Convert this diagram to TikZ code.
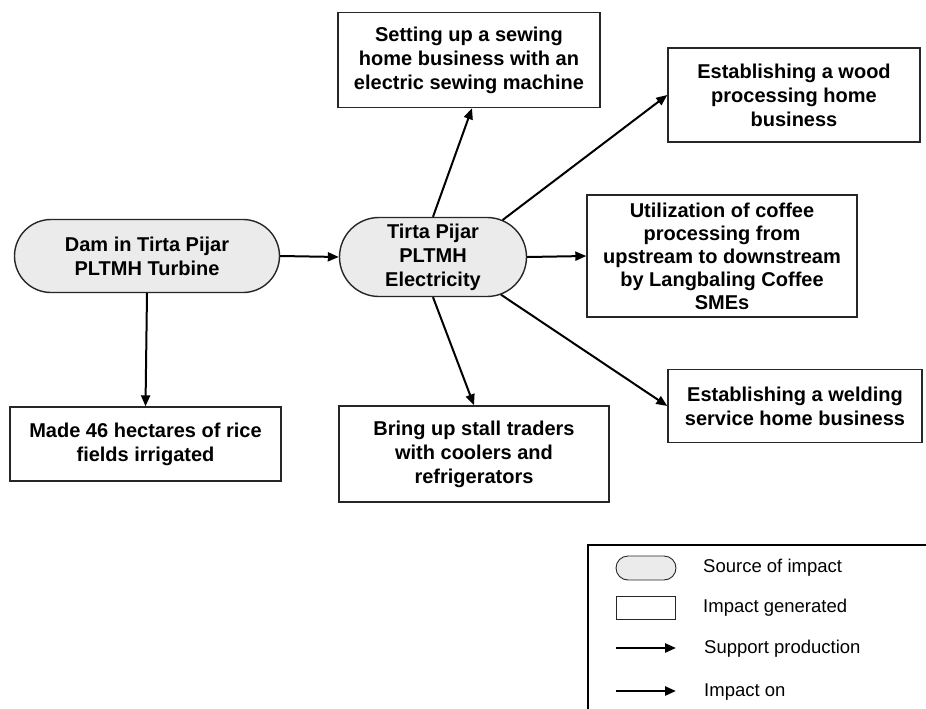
\documentclass[tikz,border=0pt]{standalone}
\usepackage{fontspec}
\setmainfont{Liberation Sans}
\usetikzlibrary{shapes.misc,arrows.meta}

\begin{document}
\begin{tikzpicture}[x=1pt, y=-1pt,
  source/.style={rounded rectangle, draw=black!85, line width=1.4pt, fill=black!8, inner sep=0pt, align=center, font=\bfseries\fontsize{20}{24}\selectfont},
  impact/.style={rectangle, draw=black!85, line width=1.4pt, inner sep=0pt, align=center, font=\bfseries\fontsize{20}{24}\selectfont},
  arr/.style={line width=2pt, -{Triangle[length=11pt,width=9pt]}},
  legtext/.style={anchor=west, inner sep=0pt, font=\fontsize{18.5}{22}\selectfont}]
\useasboundingbox (0,0) rectangle (926,709);

% Sources
\node[source, minimum width=265pt, minimum height=73pt] (dam) at (147,256) {Dam in Tirta Pijar\\PLTMH Turbine};
\node[source, minimum width=187pt, minimum height=79pt] (elec) at (433,257) {Tirta Pijar\\PLTMH\\Electricity};

% Impacts
\node[impact, minimum width=262pt, minimum height=95pt] (sew) at (469,60) {Setting up a sewing\\home business with an\\electric sewing machine};
\node[impact, minimum width=252pt, minimum height=94pt] (wood) at (794,95) {Establishing a wood\\processing home\\business};
\node[impact, minimum width=270pt, minimum height=122pt, font=\bfseries\fontsize{20}{23}\selectfont] (coffee) at (722,256) {Utilization of coffee\\processing from\\upstream to downstream\\by Langbaling Coffee\\SMEs};
\node[impact, minimum width=254pt, minimum height=73pt] (weld) at (795,406) {Establishing a welding\\service home business};
\node[impact, minimum width=270pt, minimum height=96pt] (stall) at (474,454) {Bring up stall traders\\with coolers and\\refrigerators};
\node[impact, minimum width=271pt, minimum height=74pt] (rice) at (145.5,444) {Made 46 hectares of rice\\fields irrigated};

%Lines
\draw[arr] (dam.east) -- (elec.west);
\draw[arr] (dam.south) -- (rice.north);
\draw[arr] (elec.north) -- ([xshift=3pt]sew.south);
\draw[arr] (elec.28) -- (wood.west);
\draw[arr] (elec.east) -- (coffee.west);
\draw[arr] (elec.-29) -- (weld.west);
\draw[arr] (elec.south) -- (stall.north);

% Legend
\draw[line width=1.6pt] (926,545) -| (588,709);
\node[source, minimum width=60pt, minimum height=24pt, line width=0.9pt] (legsrc) at (646,568) {};
\node[impact, minimum width=59pt, minimum height=23pt, line width=0.9pt] (legimp) at (645.5,607.5) {};
\coordinate (legsp1) at (616,648);
\coordinate (legsp2) at (676,648);
\coordinate (legim1) at (616,691);
\coordinate (legim2) at (676,691);
\draw[arr, line width=2.4pt] (legsp1) -- (legsp2);
\draw[arr, line width=2.4pt] (legim1) -- (legim2);
\node[legtext] (legsrctxt) at (703,568) {Source of impact};
\node[legtext] (legimptxt) at (703,608) {Impact generated};
\node[legtext] (legsptxt) at (704,649) {Support production};
\node[legtext] (legimtxt) at (704,692) {Impact on};
\end{tikzpicture}
\end{document}
